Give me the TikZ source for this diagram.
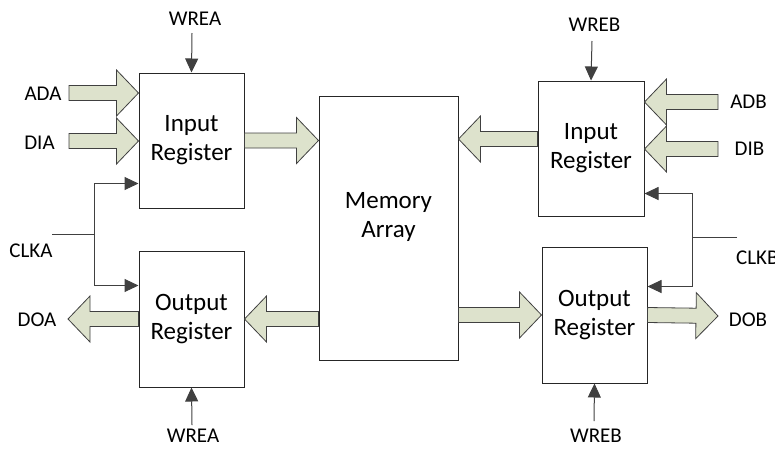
\documentclass[tikz,border=0pt]{standalone}
\usepackage{fontspec}
\setmainfont{Carlito}
\usepackage{tikz}
\usetikzlibrary{arrows.meta}
\usetikzlibrary{calc}

\definecolor{busfill}{RGB}{221,226,204}
\definecolor{wireg}{RGB}{64,64,64}

\tikzset{
	reg/.style={draw=black!85, line width=1pt, fill=white, inner sep=0pt, align=center,
		minimum width=105pt, minimum height=135pt, font=\fontsize{25}{29}\selectfont},
	lbl/.style={inner sep=0pt, font=\fontsize{21}{25}\selectfont},
	wire/.style={draw=wireg, line width=1pt},
	sig/.style={wire, -{Triangle[length=14pt,width=13pt]}},
	bus/.style={draw=wireg, fill=busfill, line width=0.8pt, to path={
		($(\tikztotarget)!22pt!(\tikztostart)$) coordinate (hb)
		($(\tikztostart)!7.5pt!90:(\tikztotarget)$)
		-- ($(hb)!7.5pt!90:(\tikztotarget)$)
		-- ($(hb)!23pt!90:(\tikztotarget)$)
		-- (\tikztotarget)
		-- ($(hb)!23pt!-90:(\tikztotarget)$)
		-- ($(hb)!7.5pt!-90:(\tikztotarget)$)
		-- ($(\tikztostart)!7.5pt!-90:(\tikztotarget)$)
		-- cycle}}
}

\begin{document}
\begin{tikzpicture}[x=1pt, y=-1pt]
	\useasboundingbox (0,0) rectangle (775,448);
	% registers and array
	\node[reg] (ina) at (191.5,140.5) {Input\\Register};
	\node[reg, minimum height=136pt] (outa) at (191.5,319) {Output\\Register};
	\node[reg, minimum width=139pt, minimum height=264pt, text depth=26pt] (mem) at (388.5,228) {Memory\\Array};
	\node[reg, minimum width=106pt] (inb) at (591,148.5) {Input\\Register};
	\node[reg, minimum height=136pt] (outb) at (594.5,315) {Output\\Register};
	
	% port labels
	\node[lbl] (ada) at (43,93.5) {ADA};
	\node[lbl] (dia) at (39.5,143) {DIA};
	\node[lbl] (clka) at (31,251) {CLKA};
	\node[lbl] (doa) at (37,320) {DOA};
	\node[lbl] (wreat) at (195,18.5) {WREA};
	\node[lbl] (wreab) at (193,436) {WREA};
	\node[lbl] (adb) at (748.5,102) {ADB};
	\node[lbl] (dib) at (749.5,149) {DIB};
	\node[lbl, anchor=west] (clkb) at (736,258) {CLKB};
	\node[lbl] (dob) at (748,319.5) {DOB};
	\node[lbl] (wrebt) at (594.5,25) {WREB};
	\node[lbl] (wrebb) at (596,436) {WREB};
	
	% free ends
	\coordinate (adas) at (69,93);
	\coordinate (dias) at (69,141);
	\coordinate (doat) at (68,319);
	\coordinate (adbs) at (718,102);
	\coordinate (dibs) at (718,149);
	\coordinate (dobt) at (718,316);
	\coordinate (bmi) at ([yshift=9.5pt]inb.west);
	\coordinate (wat) at (192,33);
	\coordinate (wab) at (192,425);
	\coordinate (wbt) at (592,41);
	\coordinate (wbb) at (594,421);
	\coordinate (clkaw) at (52,234);
	\coordinate (ja) at (94,234);
	\coordinate (clkbw) at (737,237);
	\coordinate (jb) at (692,237);
	
	% buses
	\path[bus]
	(adas) to (ina.west |- adas)
	(dias) to (ina.west |- dias)
	(ina.east) to (mem.west |- ina.east)
	(mem.west |- outa.east) to (outa.east)
	(outa.west) to (doat)
	(bmi) to (mem.east |- bmi)
	(adbs) to (inb.east |- adbs)
	(dibs) to (inb.east |- dibs)
	(mem.east |- outb.west) to (outb.west)
	(outb.east) to (dobt)
	;
	
	% control signals
	\draw[sig] (wat) -- (ina.north);
	\draw[sig] (wab) -- (outa.south);
	\draw[sig] (wbt) -- (inb.north);
	\draw[sig] (wbb) -- (outb.south);
	\draw[wire] (clkaw) -- (ja);
	\draw[sig] (ja) |- ([yshift=25pt]ina.south west);
	\draw[sig] (ja) |- ([yshift=-35pt]outa.north west);
	\draw[wire] (clkbw) -- (jb);
	\draw[sig] (jb) |- ([yshift=23pt]inb.south east);
	\draw[sig] (jb) |- ([yshift=-40pt]outb.north east);
\end{tikzpicture}
\end{document}
